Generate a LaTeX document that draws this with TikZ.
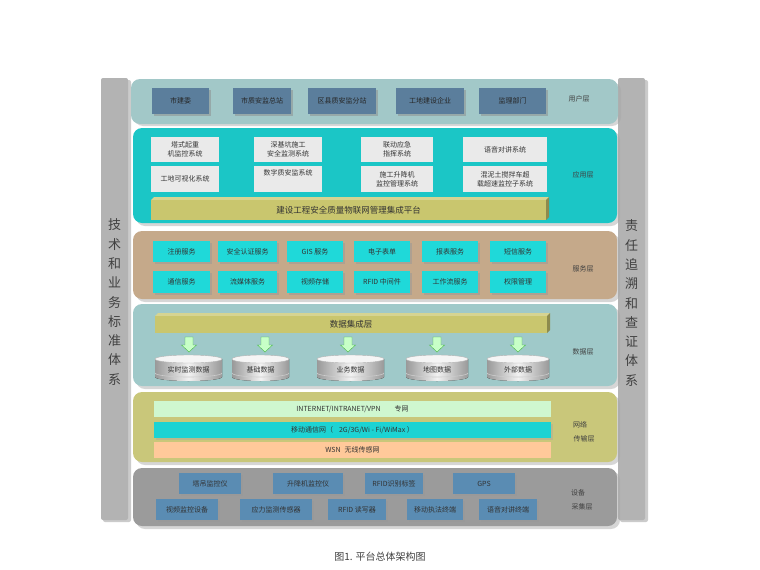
\documentclass[tikz,border=0pt]{standalone}
\usepackage{fontspec}
\setmainfont{Noto Sans CJK SC}
\definecolor{sideC}{HTML}{B3B3B3}
\definecolor{userL}{HTML}{A2C8C8}
\definecolor{userB}{HTML}{5B7E9C}
\definecolor{appL}{HTML}{1BC6C6}
\definecolor{appB}{HTML}{EAEAEA}
\definecolor{platC}{HTML}{C9C66E}
\definecolor{servL}{HTML}{C5A98A}
\definecolor{servB}{HTML}{1FD9D9}
\definecolor{dataL}{HTML}{9FC9C9}
\definecolor{netL}{HTML}{C9C77A}
\definecolor{inetB}{HTML}{CFF7CF}
\definecolor{mobB}{HTML}{1CD3D3}
\definecolor{wsnB}{HTML}{FFC99A}
\definecolor{devL}{HTML}{9B9B9B}
\definecolor{devB}{HTML}{5A8CB3}
\tikzset{
  every node/.style={font=\fontsize{7}{9}\selectfont, text=black!80, align=center, inner sep=0pt},
  layerbox/.style={rounded corners=9pt},
  layershadow/.style={rounded corners=9pt, fill=black!35, opacity=0.45},
  sidetext/.style={font=\fontsize{13}{19.3}\selectfont, text=black!75},
  lbl/.style={font=\fontsize{7}{14}\selectfont, text=black!75},
}
\begin{document}
\begin{tikzpicture}[x=1pt,y=-1pt]
\useasboundingbox[fill=white] (0,0) rectangle (760,570);

% ---------- side bars ----------
\fill[black!40, opacity=.5, rounded corners=2pt] (103,80) rectangle (131,522);
\fill[sideC, rounded corners=2pt] (101,78) rectangle (128,520);
\fill[black!40, opacity=.5, rounded corners=2pt] (620,80) rectangle (648,522);
\fill[sideC, rounded corners=2pt] (618,78) rectangle (645,520);
\node[sidetext] (ltxt) at (114.5,302) {技\\术\\和\\业\\务\\标\\准\\体\\系};
\node[sidetext] (rtxt) at (631.5,303) {责\\任\\追\\溯\\和\\查\\证\\体\\系};

% ---------- user layer ----------
\fill[layershadow] (134,82) rectangle (621,126);
\fill[layerbox, userL] (131,79) rectangle (618,124);
\foreach \cx/\w/\n/\t in {180.5/57/u1/市建委, 262/58/u2/市质安监总站, 342/68/u3/区县质安监分站, 430/68/u4/工地建设企业, 512.5/67/u5/监理部门}{
  \fill[black!45, opacity=.5] (\cx-\w/2+1.5,89.5) rectangle (\cx+\w/2+1.5,115.5);
  \node[fill=userB, minimum width=\w, minimum height=26, text=black!85] (\n) at (\cx,101) {\t};
}
\node[lbl] (userlbl) at (579,99) {用户层};

% ---------- application layer ----------
\fill[layershadow] (136,131) rectangle (620,226);
\fill[layerbox, appL] (133,128) rectangle (617,223);
\foreach \cx/\w/\n/\t in {185/68/a1/{塔式起重\\机监控系统}, 288/68/a2/{深基坑施工\\安全监测系统}, 397/72/a3/{联动应急\\指挥系统}, 505/84/a4/{语音对讲系统}}{
  \node[fill=appB, minimum width=\w, minimum height=25] (\n) at (\cx,149.5) {\t};
}
\foreach \cx/\w/\n/\t in {185/68/a5/{工地可视化系统}, 288/68/a6/{数字质安监系统\\[4pt]\mbox{}}, 397/72/a7/{施工升降机\\监控管理系统}, 505/84/a8/{混泥土搅拌车超\\载超速监控子系统}}{
  \node[fill=appB, minimum width=\w, minimum height=26] (\n) at (\cx,179) {\t};
}
\fill[platC!75!white] (151,200) -- (154,197) -- (549,197) -- (546,200) -- cycle;
\fill[platC!70!black] (546,200) -- (549,197) -- (549,217) -- (546,220) -- cycle;
\node[fill=platC, minimum width=395, minimum height=20, font=\fontsize{8.5}{10}\selectfont] (plat) at (348.5,210) {建设工程安全质量物联网管理集成平台};
\node[lbl] (applbl) at (583,175) {应用层};

% ---------- service layer ----------
\fill[layershadow] (136,234) rectangle (620,302);
\fill[layerbox, servL] (133,231) rectangle (617,299);
\foreach \cx/\w/\n/\t in {181.5/57/s1/注册服务, 247.5/59/s2/安全认证服务, 315/56/s3/GIS 服务, 382/56/s4/电子表单, 450/56/s5/报表服务, 518/56/s6/短信服务}{
  \fill[black!40, opacity=.5] (\cx-\w/2+1.5,242.5) rectangle (\cx+\w/2+1.5,263.5);
  \node[fill=servB, minimum width=\w, minimum height=21] (\n) at (\cx,251.5) {\t};
}
\foreach \cx/\w/\n/\t in {181.5/57/s7/通信服务, 247.5/59/s8/流媒体服务, 315/56/s9/视频存储, 382/56/s10/RFID 中间件, 450/56/s11/工作流服务, 518/56/s12/权限管理}{
  \fill[black!40, opacity=.5] (\cx-\w/2+1.5,272.5) rectangle (\cx+\w/2+1.5,294.5);
  \node[fill=servB, minimum width=\w, minimum height=22] (\n) at (\cx,282) {\t};
}
\node[lbl] (servlbl) at (583,269) {服务层};

% ---------- data layer ----------
\fill[layershadow] (136,307) rectangle (620,389);
\fill[layerbox, dataL] (133,304) rectangle (617,386);
\fill[platC!75!white] (155,316) -- (158,313) -- (550,313) -- (547,316) -- cycle;
\fill[platC!70!black] (547,316) -- (550,313) -- (550,330) -- (547,333) -- cycle;
\node[fill=platC, minimum width=392, minimum height=17, font=\fontsize{8.5}{10}\selectfont] (intbar) at (351,324.5) {数据集成层};
\foreach \cx in {189,265,348,437,518}{
  \filldraw[fill=green!22, draw=green!45!gray, line width=.4pt] (\cx-4,337) -- (\cx+4,337) -- (\cx+4,345) -- (\cx+7.5,345) -- (\cx,352) -- (\cx-7.5,345) -- (\cx-4,345) -- cycle;
}
\foreach \cx/\w/\n/\t in {188.5/33.5/d1/实时监测数据, 260.5/28.5/d2/基础数据, 350.5/33.5/d3/业务数据, 437/31/d4/地图数据, 518/31/d5/外部数据}{
  \fill[left color=gray!80, right color=gray!80, middle color=gray!10] (\cx-\w,359) -- (\cx-\w,377) arc[start angle=180, end angle=0, x radius=\w, y radius=4] -- (\cx+\w,359) -- cycle;
  \draw[white!60!gray, line width=.6pt] (\cx-\w,373) arc[start angle=180, end angle=0, x radius=\w, y radius=4];
  \filldraw[fill=gray!8, draw=gray!60, line width=.4pt] (\cx,359) ellipse[x radius=\w, y radius=4];
  \node (\n) at (\cx,369.5) {\t};
}
\node[lbl] (datalbl) at (583,352) {数据层};

% ---------- network layer ----------
\fill[layershadow] (136,395) rectangle (620,465);
\fill[layerbox, netL] (133,392) rectangle (617,462);
\node[fill=inetB, minimum width=397, minimum height=16] (inet) at (352.5,409) {INTERNET/INTRANET/VPN\hspace{14pt}专网};
\fill[black!35, opacity=.4] (155.5,423.5) rectangle (552.5,439.5);
\node[fill=mobB, minimum width=397, minimum height=16] (mob) at (352.5,430) {移动通信网（\hspace{6pt}2G/3G/Wi - Fi/WiMax ）};
\node[fill=wsnB, minimum width=397, minimum height=16] (wsn) at (352.5,450) {WSN\hspace{4pt}无线传感网};
\node[lbl] (netlbl) at (580,432) {网络\\\hspace{8pt}传输层};

% ---------- device layer ----------
\fill[layershadow] (136,471) rectangle (620,529);
\fill[layerbox, devL] (133,468) rectangle (617,526);
\foreach \cx/\w/\n/\t in {210/62/e1/塔吊监控仪, 308/70/e2/升降机监控仪, 394/58/e3/RFID识别标签, 484/62/e4/GPS}{
  \fill[black!40, opacity=.5] (\cx-\w/2+1.5,474.5) rectangle (\cx+\w/2+1.5,495.5);
  \node[fill=devB, minimum width=\w, minimum height=21] (\n) at (\cx,483.5) {\t};
}
\foreach \cx/\w/\n/\t in {187/62/e5/视频监控设备, 276/72/e6/应力监测传感器, 357/58/e7/RFID 读写器, 435/56/e8/移动执法终端, 508/58/e9/语音对讲终端}{
  \fill[black!40, opacity=.5] (\cx-\w/2+1.5,500.5) rectangle (\cx+\w/2+1.5,521.5);
  \node[fill=devB, minimum width=\w, minimum height=21] (\n) at (\cx,509.5) {\t};
}
\node[lbl] (devlbl) at (578,500) {设备\\\hspace{8pt}采集层};

% ---------- caption ----------
\node[font=\fontsize{10}{12}\selectfont, text=black!75] (cap) at (380,557) {图1. 平台总体架构图};
\end{tikzpicture}
\end{document}
